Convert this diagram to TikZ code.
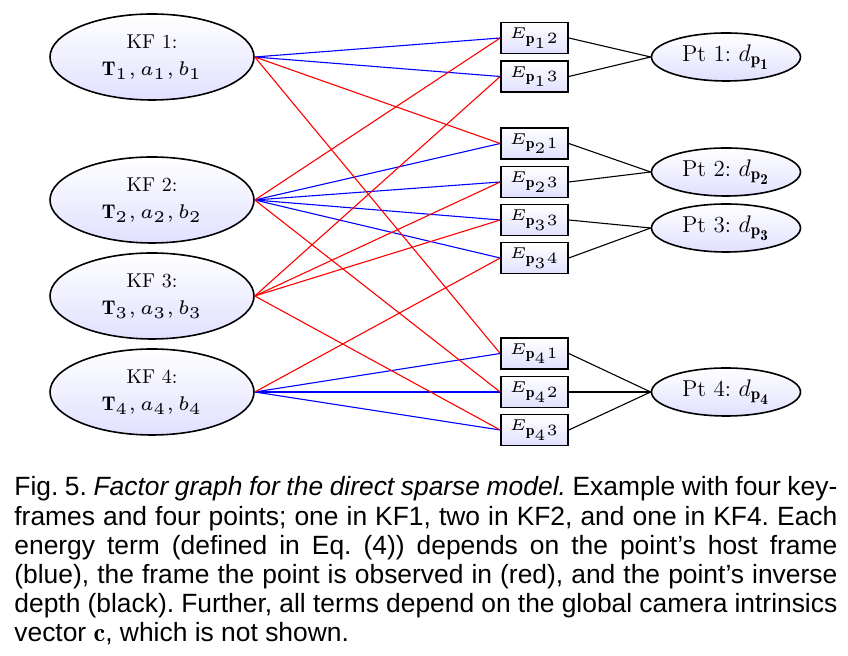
\documentclass[tikz,border=0pt]{standalone}
\usepackage{fontspec}
\usepackage{amsmath}
\usepackage{graphicx}
\usetikzlibrary{shapes.geometric}
\newfontfamily\capfont{Liberation Sans}
\DeclareMathSizes{11.5}{11.5}{8.5}{7.5}
\newcommand{\kfvars}[1]{\scalebox{1.65}{\fontsize{6}{7}\selectfont$\mathbf{T}_{#1}, a_{#1}, b_{#1}$}}
\newcommand{\eterm}[2]{\scalebox{1.57}{\fontsize{5}{6}\selectfont$E_{\mathbf{p}_{#1}#2}$}}

\begin{document}
\frenchspacing
\begin{tikzpicture}[x=0.5pt, y=-0.5pt,
  shade/.style={draw, line width=0.8pt, top color=white, bottom color=blue!12},
  kf/.style={shade, ellipse, minimum width=102pt, minimum height=43pt, inner sep=0pt,
    align=center, font=\fontsize{10}{13.5}\selectfont},
  fac/.style={shade, rectangle, minimum width=33.5pt, minimum height=15.5pt, inner sep=0pt},
  pt/.style={shade, ellipse, minimum width=74.5pt, minimum height=24pt, inner sep=0pt,
    font=\fontsize{11.5}{14}\selectfont},
  host/.style={blue, line width=0.55pt},
  obs/.style={red, line width=0.55pt},
  dep/.style={black, line width=0.55pt}]
  \useasboundingbox (0,0) rectangle (848,656);

  % keyframes
  \node[kf] (kf1) at (152,57)  {KF 1:\\ \kfvars{1}};
  \node[kf] (kf2) at (152,200) {KF 2:\\ \kfvars{2}};
  \node[kf] (kf3) at (152,296) {KF 3:\\ \kfvars{3}};
  \node[kf] (kf4) at (152,392) {KF 4:\\ \kfvars{4}};

  % energy terms
  \node[fac] (e12) at (534.5,38)    {\eterm{1}{2}};
  \node[fac] (e13) at (534.5,76.5)  {\eterm{1}{3}};
  \node[fac] (e21) at (534.5,143.5) {\eterm{2}{1}};
  \node[fac] (e23) at (534.5,182)   {\eterm{2}{3}};
  \node[fac] (e33) at (534.5,220)   {\eterm{3}{3}};
  \node[fac] (e34) at (534.5,258)   {\eterm{3}{4}};
  \node[fac] (e41) at (534.5,353.5) {\eterm{4}{1}};
  \node[fac] (e42) at (534.5,392)   {\eterm{4}{2}};
  \node[fac] (e43) at (534.5,430)   {\eterm{4}{3}};

  % points
  \node[pt] (pt1) at (726,57)  {Pt 1: $d_{\mathbf{p_1}}$};
  \node[pt] (pt2) at (726,172) {Pt 2: $d_{\mathbf{p_2}}$};
  \node[pt] (pt3) at (726,228) {Pt 3: $d_{\mathbf{p_3}}$};
  \node[pt] (pt4) at (726,392) {Pt 4: $d_{\mathbf{p_4}}$};

  % host frame
  \foreach \k/\e in {kf1/e12, kf1/e13, kf2/e21, kf2/e23, kf2/e33, kf2/e34, kf4/e41, kf4/e42, kf4/e43}
    \draw[host] (\k.east) -- (\e.west);
  % observing frame
  \foreach \k/\e in {kf2/e12, kf3/e13, kf1/e21, kf3/e23, kf3/e33, kf4/e34, kf1/e41, kf2/e42, kf3/e43}
    \draw[obs] (\k.east) -- (\e.west);
  % inverse depth
  \foreach \e/\p in {e12/pt1, e13/pt1, e21/pt2, e23/pt2, e33/pt3, e34/pt3, e41/pt4, e42/pt4, e43/pt4}
    \draw[dep] (\e.east) -- (\p.west);

  \node[anchor=base west, inner sep=0pt, text width=411.5pt, align=justify,
    font=\capfont\fontsize{13.2}{14.6}\selectfont] (caption) at (14,496)
    {Fig. 5. \textit{Factor graph for the direct sparse model.} Example with four key-\linebreak
     frames and four points; one in KF1, two in KF2, and one in KF4. Each\linebreak
     energy term (defined in Eq. (4)) depends on the point’s host frame\linebreak
     (blue), the frame the point is observed in (red), and the point’s inverse\linebreak
     depth (black). Further, all terms depend on the global camera intrinsics\linebreak
     vector $\mathbf{c}$, which is not shown.};
\end{tikzpicture}
\end{document}
